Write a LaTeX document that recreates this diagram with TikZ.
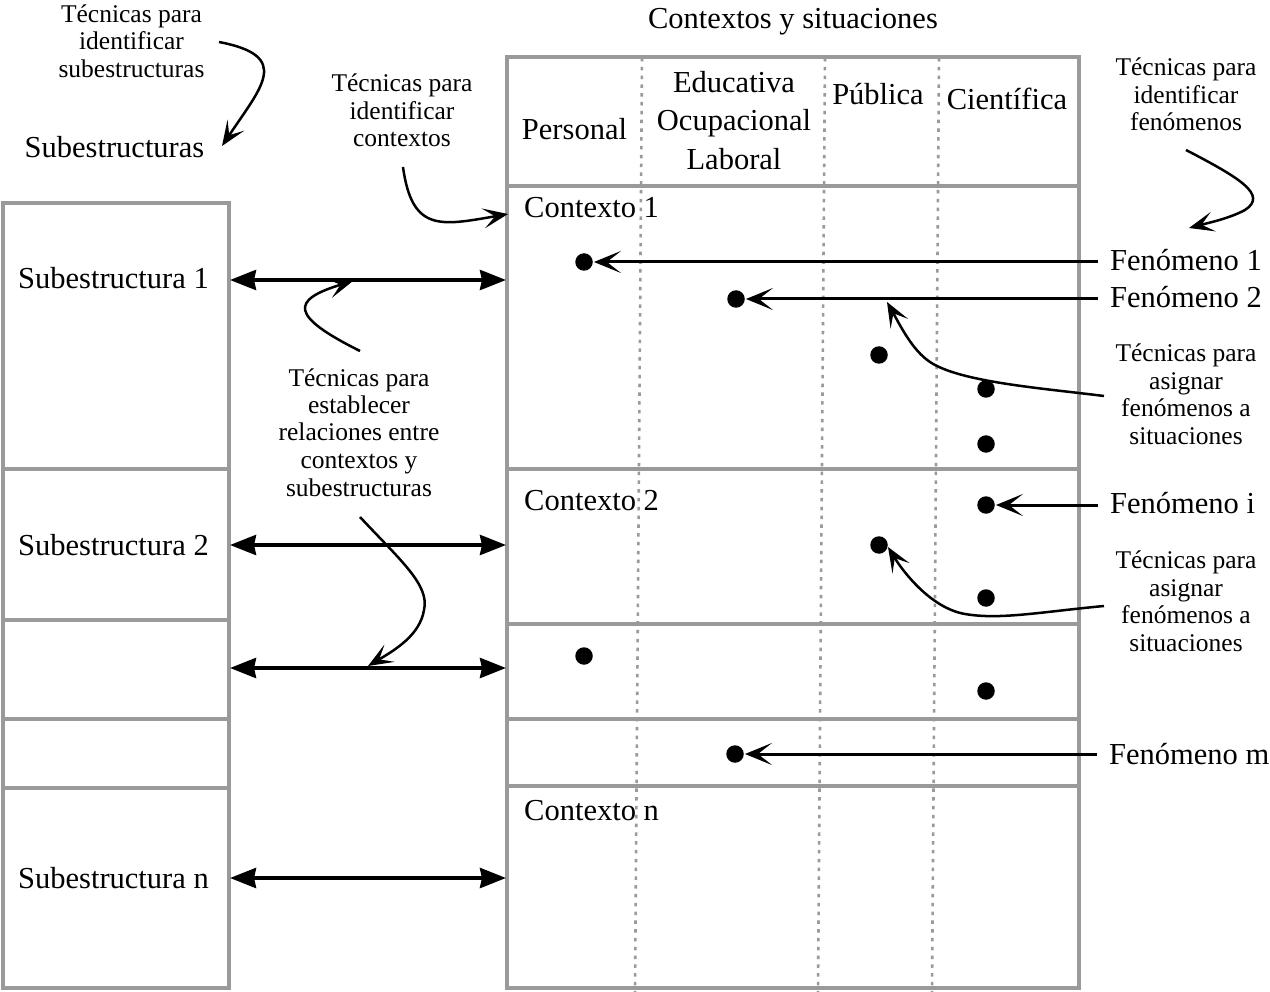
\documentclass[tikz,border=0pt]{standalone}
\usepackage{fontspec}
\setmainfont{Liberation Serif}
\usetikzlibrary{arrows.meta}
\definecolor{boxgray}{HTML}{9A9A9A}
\tikzset{
  frame/.style={draw=boxgray, line width=3.2pt},
  sepline/.style={draw=boxgray, line width=2.6pt, dash pattern=on 3.5pt off 5.3pt},
  big/.style={font=\fontsize{30.5}{38.6}\selectfont, inner sep=0pt},
  small/.style={font=\fontsize{25.5}{27.5}\selectfont, inner sep=0pt, align=center},
  dot/.style={circle, fill=black, inner sep=0pt, minimum size=17.5pt},
  fen/.style={big, anchor=base west, inner xsep=12pt, inner ysep=0pt},
  relarrow/.style={line width=3.8pt, {Stealth[length=26pt,width=20pt,inset=2pt]}-{Stealth[length=26pt,width=20pt,inset=2pt]}},
  fenarrow/.style={line width=3pt, -{Stealth[length=27pt,width=22pt,inset=14pt]}, shorten >=1pt},
  curvearrow/.style={line width=2.5pt, -{Stealth[length=25pt,width=20pt,inset=12pt]}},
}
\begin{document}
\begin{tikzpicture}[x=1pt,y=-1pt]
\useasboundingbox (0,0) rectangle (1270,992);
% left boxes
\draw[frame] (3,203) rectangle (229,988);
\foreach \yy in {469,620,719,788} \draw[frame] (3,\yy) -- (229,\yy);
% right table
\draw[frame] (507,57) rectangle (1079,988);
\foreach \yy in {186,469,624,719,786} \draw[frame] (507,\yy) -- (1079,\yy);
\draw[sepline] (642,58) -- (635,992);
\draw[sepline] (825,58) -- (818,992);
\draw[sepline] (939,58) -- (932,992);

% texts
\node[small] (tsub) at (131.5,44.4) {\strut Técnicas para\\\strut identificar\\\strut subestructuras};
\node[big, anchor=base] (subs) at (114.5,157.5) {Subestructuras};
\node[small] (tctx) at (402,113.8) {\strut Técnicas para\\\strut identificar\\\strut contextos};
\node[big, anchor=base] (title) at (793,28.5) {Contextos y situaciones};
\node[big, anchor=base] (hpers) at (574.5,140) {Personal};
\node[big, align=center] (hedu) at (734,123.2) {\strut Educativa\\\strut Ocupacional\\\strut Laboral};
\node[big, anchor=base] (hpub) at (878,104.5) {Pública};
\node[big, anchor=base] (hcie) at (1007,110) {Científica};
\node[big, anchor=base west] (c1) at (524,218) {Contexto 1};
\node[big, anchor=base west] (c2) at (524,510) {Contexto 2};
\node[big, anchor=base west] (cn) at (524,820) {Contexto n};
\node[big, anchor=base west] (s1) at (18,289) {Subestructura 1};
\node[big, anchor=base west] (s2) at (18,555) {Subestructura 2};
\node[big, anchor=base west] (sn) at (18,888) {Subestructura n};
\node[small] (tfen) at (1186,97.8) {\strut Técnicas para\\\strut identificar\\\strut fenómenos};
\node[small] (tasig1) at (1186,397.3) {\strut Técnicas para\\\strut asignar\\\strut fenómenos a\\\strut situaciones};
\node[small] (tasig2) at (1186,604.5) {\strut Técnicas para\\\strut asignar\\\strut fenómenos a\\\strut situaciones};
\node[small] (trel) at (359,435.5) {\strut Técnicas para\\\strut establecer\\\strut relaciones entre\\\strut contextos y\\\strut subestructuras};
\node[fen] (f1) at (1098,271) {Fenómeno 1};
\node[fen] (f2) at (1098,308) {Fenómeno 2};
\node[fen] (fi) at (1098,513.5) {Fenómeno i};
\node[fen] (fm) at (1097,764) {Fenómeno m};

% dots
\node[dot] (d1) at (584,262) {};
\node[dot] (d2) at (736,299) {};
\node[dot] (d3) at (879,355) {};
\node[dot] (d4) at (986,389) {};
\node[dot] (d5) at (986,444) {};
\node[dot] (di) at (986,505) {};
\node[dot] (d7) at (879,545) {};
\node[dot] (d8) at (986,598) {};
\node[dot] (d9) at (584,656) {};
\node[dot] (d10) at (986,691) {};
\node[dot] (dm) at (735,754) {};

% phenomenon arrows
\draw[fenarrow] (f1.west |- d1) -- (d1);
\draw[fenarrow] (f2.west |- d2) -- (d2);
\draw[fenarrow] (fi.west |- di) -- (di);
\draw[fenarrow] (fm.west |- dm) -- (dm);

% relation arrows
\coordinate (l1) at (230,280); \coordinate (r1) at (506,280);
\coordinate (l2) at (230,545); \coordinate (r2) at (506,545);
\coordinate (l3) at (230,668); \coordinate (r3) at (506,668);
\coordinate (l4) at (230,878); \coordinate (r4) at (506,878);
\draw[relarrow] (l1) -- (r1);
\draw[relarrow] (l2) -- (r2);
\draw[relarrow] (l3) -- (r3);
\draw[relarrow] (l4) -- (r4);

% curved arrows
\draw[curvearrow] (219,42) .. controls (292,56) and (262,86) .. (222,146);
\draw[curvearrow] (403,167) .. controls (412,232) and (440,226) .. (508,214);
\draw[curvearrow] (1186,150) .. controls (1240,178) and (1268,195) .. (1245,210) .. controls (1230,218) and (1212,222) .. (1189,228);
\draw[curvearrow] (360,351) .. controls (290,316) and (290,300) .. (353,281);
\draw[curvearrow] (360,517) .. controls (400,560) and (430,585) .. (424,610) .. controls (420,635) and (395,650) .. (368,666);
\draw[curvearrow] (1104,396) .. controls (1040,388) and (960,382) .. (930,362) .. controls (912,350) and (900,325) .. (887,302);
\draw[curvearrow] (1104,606) .. controls (1040,612) and (1000,620) .. (965,614) .. controls (930,608) and (902,570) .. (888,547);
\end{tikzpicture}
\end{document}
